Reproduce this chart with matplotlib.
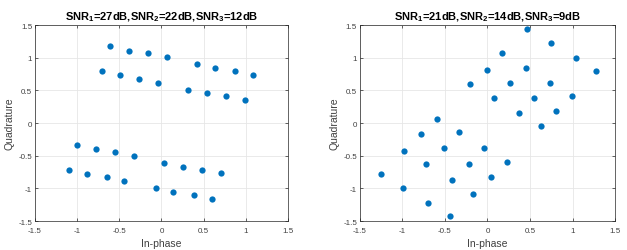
import matplotlib.pyplot as plt

plt.rcParams['font.family'] = ['Liberation Sans', 'DejaVu Sans']
plt.rcParams['mathtext.fontset'] = 'custom'
plt.rcParams['mathtext.rm'] = 'Liberation Sans:bold'
plt.rcParams['mathtext.it'] = 'Liberation Sans:bold'
plt.rcParams['mathtext.bf'] = 'Liberation Sans:bold'

# left: SNR 27/22/12 dB
i_left = [-0.61, -0.39, -0.16, 0.06, 0.42, 0.64, 0.87, 1.09,
          -0.71, -0.49, -0.27, -0.04, 0.32, 0.54, 0.77, 0.99,
          -1.00, -0.78, -0.55, -0.33, 0.03, 0.25, 0.48, 0.70,
          -1.10, -0.88, -0.65, -0.44, -0.07, 0.14, 0.38, 0.60]
q_left = [1.18, 1.11, 1.07, 1.01, 0.90, 0.84, 0.80, 0.73,
          0.79, 0.73, 0.68, 0.62, 0.51, 0.46, 0.41, 0.35,
          -0.33, -0.39, -0.44, -0.50, -0.61, -0.67, -0.72, -0.77,
          -0.72, -0.78, -0.83, -0.89, -0.99, -1.05, -1.10, -1.16]

# right: SNR 21/14/9 dB
i_right = [-1.25, -0.98, -0.99, -0.78, -0.72, -0.70, -0.59, -0.51,
           -0.42, -0.44, -0.33, -0.22, -0.17, -0.20, -0.04, 0.04,
           -0.01, 0.08, 0.23, 0.17, 0.26, 0.37, 0.45, 0.55,
           0.47, 0.63, 0.74, 0.75, 0.80, 0.99, 1.04, 1.28]
q_right = [-0.78, -0.43, -0.99, -0.17, -0.63, -1.23, 0.06, -0.38,
           -0.87, -1.43, -0.14, -0.62, -1.08, 0.60, -0.38, -0.82,
           0.82, 0.39, -0.59, 1.07, 0.61, 0.15, 0.85, 0.38,
           1.44, -0.05, 0.62, 1.23, 0.18, 0.42, 1.00, 0.79]

titles = [r'SNR$_1$=27dB,SNR$_2$=22dB,SNR$_3$=12dB',
          r'SNR$_1$=21dB,SNR$_2$=14dB,SNR$_3$=9dB']
ticks = [-1.5, -1, -0.5, 0, 0.5, 1, 1.5]
tick_labels = ['-1.5', '-1', '-0.5', '0', '0.5', '1', '1.5']

fig = plt.figure(figsize=(6.27, 2.51), dpi=100)
ax1 = fig.add_axes([0.0558, 0.1155, 0.4035, 0.7805])
ax2 = fig.add_axes([0.574, 0.1155, 0.407, 0.7805])

for ax, xs, ys, t in zip([ax1, ax2], [i_left, i_right], [q_left, q_right], titles):
    ax.plot(xs, ys, 'o', color='#0072BD', markersize=4.5, markeredgewidth=0)
    ax.set_xlim(-1.5, 1.5)
    ax.set_ylim(-1.5, 1.5)
    ax.set_xticks(ticks)
    ax.set_xticklabels(tick_labels)
    ax.set_yticks(ticks)
    ax.set_yticklabels(tick_labels)
    ax.grid(True, color='#e6e6e6', linewidth=0.6)
    ax.set_axisbelow(True)
    ax.tick_params(direction='in', length=2.5, width=0.5, labelsize=5.8,
                   colors='#262626', labelcolor='#404040', pad=2,
                   top=True, right=True)
    ax.tick_params(axis='x', pad=4.5)
    for s in ax.spines.values():
        s.set_linewidth(0.5)
        s.set_color('#262626')
    ax.set_title(t, fontsize=8, fontweight='bold', pad=4)
    ax.set_xlabel('In-phase', fontsize=7.5, color='#404040', labelpad=3)
    ax.set_ylabel('Quadrature', fontsize=7.5, color='#404040', labelpad=3)

plt.savefig('out.png', dpi=100)
